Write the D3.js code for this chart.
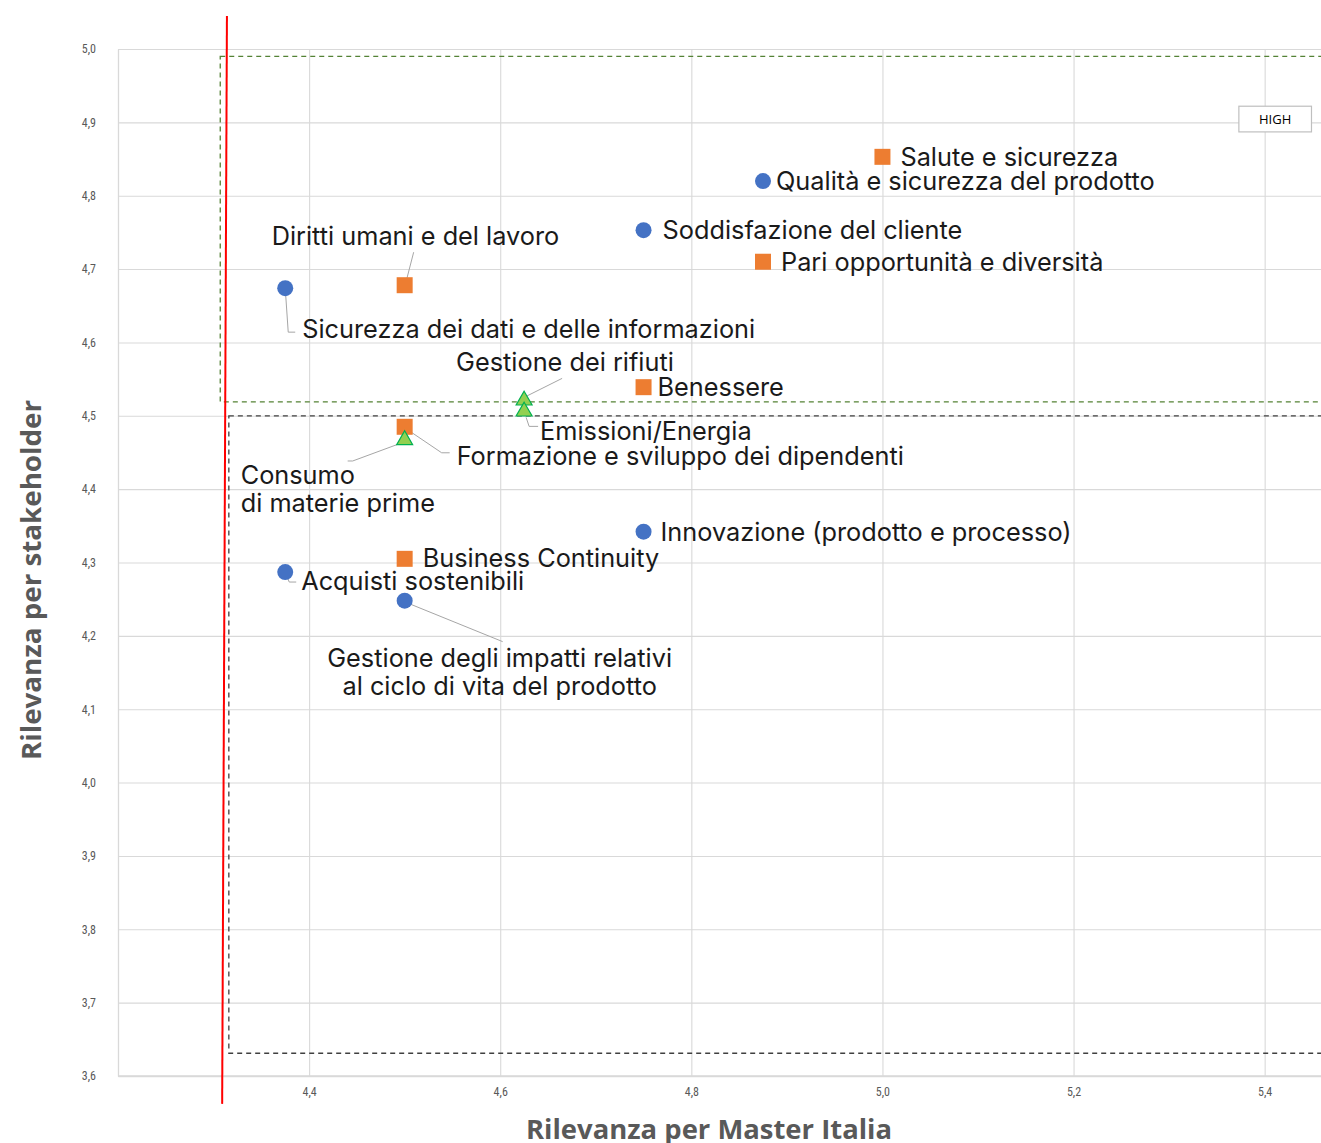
<!DOCTYPE html>
<html>
<head>
<meta charset="utf-8">
<script src="https://cdn.jsdelivr.net/npm/d3@7"></script>
<style>
  html, body { margin: 0; padding: 0; background: #fff; }
  svg { display: block; }
</style>
</head>
<body>
<svg id="chart" width="1321" height="1143"></svg>
<script>
// ---------------- DATA ----------------
const topics = [
  "Salute e sicurezza",
  "Qualità e sicurezza del prodotto",
  "Soddisfazione del cliente",
  "Pari opportunità e diversità",
  "Diritti umani e del lavoro",
  "Sicurezza dei dati e delle informazioni",
  "Benessere",
  "Gestione dei rifiuti",
  "Emissioni/Energia",
  "Formazione e sviluppo dei dipendenti",
  "Consumo\ndi materie prime",
  "Innovazione (prodotto e processo)",
  "Business Continuity",
  "Acquisti sostenibili",
  "Gestione degli impatti relativi\nal ciclo di vita del prodotto"
];
const relevanceMasterItalia = [5.0, 4.875, 4.75, 4.875, 4.5, 4.375, 4.75, 4.625, 4.625, 4.5, 4.5, 4.75, 4.5, 4.375, 4.5];
const relevanceStakeholder  = [4.853, 4.82, 4.753, 4.71, 4.678, 4.674, 4.539, 4.521, 4.506, 4.485, 4.467, 4.342, 4.305, 4.287, 4.248];
const topicGroup = ["social", "governance", "governance", "social", "social", "governance", "social",
                    "environment", "environment", "social", "environment", "governance", "social", "governance", "governance"];

const xTickValues = [4.4, 4.6, 4.8, 5.0, 5.2, 5.4];
const yTickValues = [3.6, 3.7, 3.8, 3.9, 4.0, 4.1, 4.2, 4.3, 4.4, 4.5, 4.6, 4.7, 4.8, 4.9, 5.0];
const xDomain = [4.2, 5.46];
const yDomain = [3.6, 5.0];

// quadrant boxes (data units): [x0, x1, y0, y1]
const highZone = [4.307, 5.6, 4.519, 4.99];
const midZone  = [4.316, 5.6, 3.631, 4.5];
// red threshold line (data units): [xTop, yTop, xBottom, yBottom]
const thresholdLine = [4.314, 5.045, 4.309, 3.562];
// "HIGH" tag box (data units): [x0, x1, y0, y1]
const highTag = [5.373, 5.449, 4.887, 4.922];

const xAxisTitle = "Rilevanza per Master Italia";
const yAxisTitle = "Rilevanza per stakeholder";

// ---------------- LAYOUT (label offsets in px, relative to marker) ----------------
const labelLayout = [
  { dx: 18,  dy: 9,  anchor: "start" },
  { dx: 13,  dy: 9,  anchor: "start" },
  { dx: 19,  dy: 9,  anchor: "start" },
  { dx: 18,  dy: 9,  anchor: "start" },
  { dx: -133, dy: -40, anchor: "start", leader: [[1,-2],[9,-33]] },
  { dx: 17,  dy: 50, anchor: "start", leader: [[0,0],[3,44],[10,44]] },
  { dx: 14,  dy: 9,  anchor: "start" },
  { dx: -68, dy: -29, anchor: "start", leader: [[0,-3],[38,-22]] },
  { dx: 16,  dy: 29, anchor: "start", leader: [[2,6],[5,15],[14,15]] },
  { dx: 52,  dy: 38, anchor: "start", leader: [[3,3],[37,26],[45,26]] },
  { dx: -164, dy: 44, anchor: "start", leader: [[-6,4],[-52,21],[-57,21]] },
  { dx: 17,  dy: 9,  anchor: "start" },
  { dx: 18,  dy: 8,  anchor: "start" },
  { dx: 16,  dy: 18, anchor: "start", leader: [[0,0],[4,10],[11,10]] },
  { dx: 95,  dy: 66, anchor: "middle", leader: [[2,2],[98,41]] }
];

const groupStyle = {
  governance:  { shape: d3.symbolCircle,   size: 201, fill: "#4472C4", stroke: "none" },
  social:      { shape: d3.symbolSquare,   size: 256, fill: "#ED7D31", stroke: "none" },
  environment: { shape: d3.symbolTriangle, size: 110, fill: "#92D050", stroke: "#00B050" }
};

// ---------------- CHART ----------------
const svg = d3.select("#chart");
const W = 1321, H = 1143;
const plot = { left: 118, top: 49, right: 1322, bottom: 1076 };

const x = d3.scaleLinear().domain(xDomain).range([plot.left, plot.right]);
const y = d3.scaleLinear().domain(yDomain).range([plot.bottom, plot.top]);
const fmt = v => d3.format(".1f")(v).replace(".", ",");

const gridColor = "#d9d9d9";
const tickFont = "'Liberation Sans Narrow', 'Arial Narrow', 'Roboto Condensed', 'Liberation Sans', sans-serif";

// Y axis with horizontal gridlines
const yAxis = svg.append("g")
  .attr("transform", `translate(${plot.left},0)`)
  .call(d3.axisLeft(y).tickValues(yTickValues).tickFormat(fmt)
        .tickSizeInner(-(W - plot.left)).tickSizeOuter(0).tickPadding(22));
yAxis.select(".domain").attr("stroke", gridColor).attr("stroke-width", 1.3);
yAxis.selectAll(".tick line").attr("stroke", gridColor).attr("stroke-width", 1.1);
yAxis.selectAll(".tick text").attr("fill", "#595959").attr("font-size", 12)
  .attr("font-family", tickFont);

// X axis with vertical gridlines
const xAxis = svg.append("g")
  .attr("transform", `translate(0,${plot.bottom})`)
  .call(d3.axisBottom(x).tickValues(xTickValues).tickFormat(fmt)
        .tickSizeInner(-(plot.bottom - plot.top)).tickSizeOuter(0).tickPadding(11));
xAxis.select(".domain").attr("stroke", gridColor).attr("stroke-width", 1.3);
xAxis.selectAll(".tick line").attr("stroke", gridColor).attr("stroke-width", 1.1);
xAxis.selectAll(".tick text").attr("fill", "#595959").attr("font-size", 12)
  .attr("font-family", tickFont);

svg.append("line").attr("x1", plot.left).attr("x2", W).attr("y1", plot.bottom).attr("y2", plot.bottom)
  .attr("stroke", gridColor).attr("stroke-width", 1.5);

// Zones
function zone(z, color) {
  svg.append("rect")
    .attr("x", x(z[0])).attr("y", y(z[3]))
    .attr("width", x(z[1]) - x(z[0])).attr("height", y(z[2]) - y(z[3]))
    .attr("fill", "none").attr("stroke", color).attr("stroke-width", 1.3)
    .attr("stroke-dasharray", "5,4");
}
zone(highZone, "#548235");
zone(midZone, "#404040");

// Red threshold line
svg.append("line")
  .attr("x1", x(thresholdLine[0])).attr("y1", y(thresholdLine[1]))
  .attr("x2", x(thresholdLine[2])).attr("y2", y(thresholdLine[3]))
  .attr("stroke", "#ff0000").attr("stroke-width", 2);

// HIGH tag
svg.append("rect")
  .attr("x", x(highTag[0])).attr("y", y(highTag[3]))
  .attr("width", x(highTag[1]) - x(highTag[0])).attr("height", y(highTag[2]) - y(highTag[3]))
  .attr("fill", "#fff").attr("stroke", "#bfbfbf").attr("stroke-width", 1.2);
svg.append("text")
  .attr("x", (x(highTag[0]) + x(highTag[1])) / 2)
  .attr("y", (y(highTag[2]) + y(highTag[3])) / 2 + 5)
  .attr("text-anchor", "middle").attr("font-size", 13)
  .attr("font-family", "'Open Sans', 'Liberation Sans', sans-serif")
  .attr("fill", "#000").text("HIGH");

// Data points
const points = topics.map((t, i) => ({
  name: t, x: relevanceMasterItalia[i], y: relevanceStakeholder[i], group: topicGroup[i], layout: labelLayout[i]
}));

// Leader lines
svg.append("g").selectAll("polyline")
  .data(points.filter(p => p.layout.leader))
  .join("polyline")
  .attr("points", p => p.layout.leader.map(o => [x(p.x) + o[0], y(p.y) + o[1]].join(",")).join(" "))
  .attr("fill", "none").attr("stroke", "#a6a6a6").attr("stroke-width", 1);

// Markers
svg.append("g").selectAll("path")
  .data(points)
  .join("path")
  .attr("transform", p => `translate(${x(p.x)},${y(p.y)})`)
  .attr("d", p => d3.symbol(groupStyle[p.group].shape, groupStyle[p.group].size)())
  .attr("fill", p => groupStyle[p.group].fill)
  .attr("stroke", p => groupStyle[p.group].stroke)
  .attr("stroke-width", 1.2);

// Labels
const labels = svg.append("g")
  .attr("font-family", "Inter, 'Noto Sans', sans-serif")
  .attr("font-size", 25.3).attr("fill", "#1a1a1a");
points.forEach(p => {
  const t = labels.append("text")
    .attr("x", x(p.x) + p.layout.dx)
    .attr("y", y(p.y) + p.layout.dy)
    .attr("text-anchor", p.layout.anchor);
  p.name.split("\n").forEach((line, k) => {
    t.append("tspan").attr("x", x(p.x) + p.layout.dx).attr("dy", k === 0 ? 0 : 28).text(line);
  });
});

// Axis titles
svg.append("text")
  .attr("x", 709).attr("y", 1139)
  .attr("text-anchor", "middle")
  .attr("font-family", "'Open Sans', Lato, sans-serif").attr("font-weight", 700)
  .attr("font-size", 26).attr("fill", "#595959")
  .attr("textLength", 366).attr("lengthAdjust", "spacingAndGlyphs")
  .text(xAxisTitle);

svg.append("text")
  .attr("transform", "translate(41,580) rotate(-90)")
  .attr("text-anchor", "middle")
  .attr("font-family", "'Open Sans', Lato, sans-serif").attr("font-weight", 700)
  .attr("font-size", 26).attr("fill", "#595959")
  .attr("textLength", 360).attr("lengthAdjust", "spacingAndGlyphs")
  .text(yAxisTitle);
</script>
</body>
</html>
